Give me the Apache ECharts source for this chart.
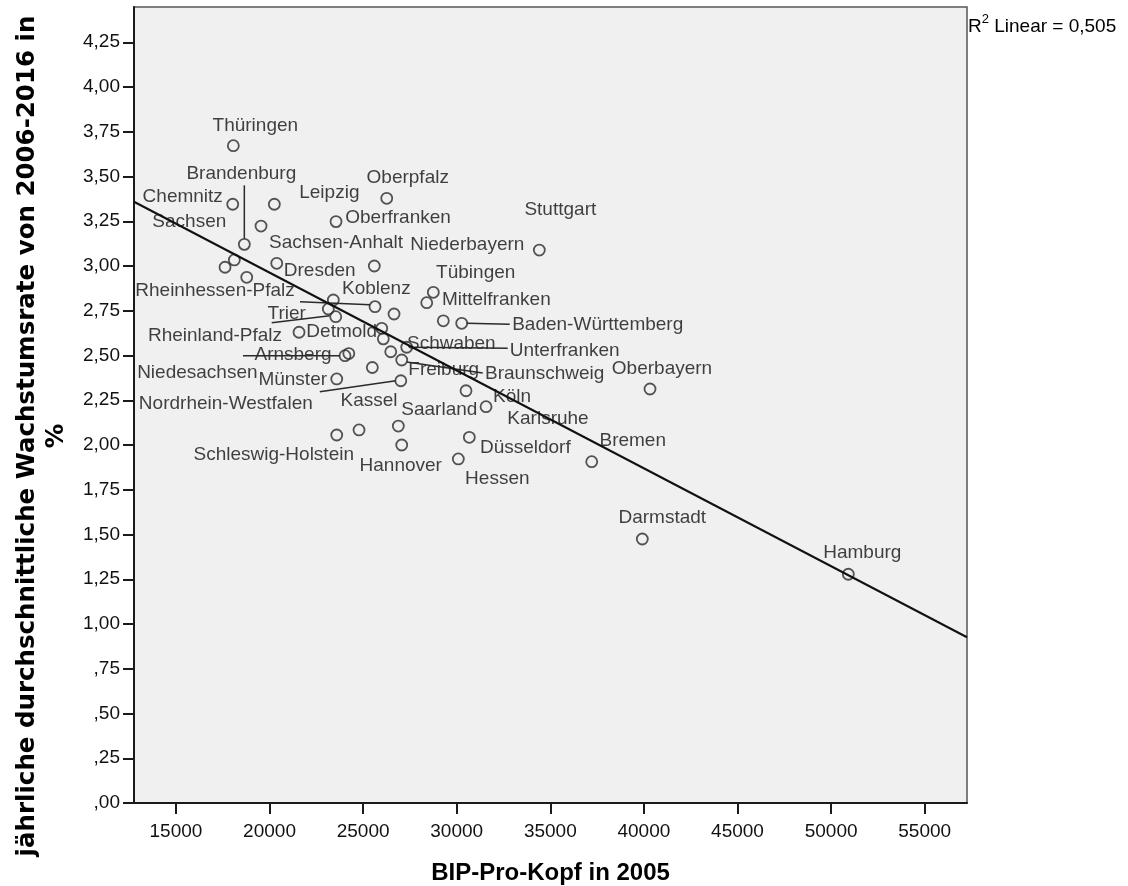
<!DOCTYPE html>
<html>
<head>
<meta charset="utf-8">
<script src="https://cdn.jsdelivr.net/npm/echarts@6/dist/echarts.min.js"></script>
<style>
  html, body { margin: 0; padding: 0; background: #ffffff; }
  #chart { width: 1128px; height: 886px; }
</style>
</head>
<body>
<div id="chart"></div>
<script>
// ---- Data ----
const regionNames = [
  'Thüringen', 'Chemnitz', 'Leipzig', 'Sachsen-Anhalt', 'Brandenburg',
  'Oberfranken', 'Oberpfalz', 'Sachsen', '', '',
  'Dresden', 'Niederbayern', 'Stuttgart', 'Koblenz', '',
  'Trier', 'Rheinhessen-Pfalz', '', 'Tübingen', 'Mittelfranken',
  '', 'Baden-Württemberg', 'Rheinland-Pfalz', 'Detmold', 'Schwaben',
  'Freiburg', 'Unterfranken', 'Braunschweig', 'Arnsberg', '',
  'Niedesachsen', 'Münster', 'Nordrhein-Westfalen', 'Köln', 'Karlsruhe',
  'Saarland', 'Kassel', 'Schleswig-Holstein', 'Hannover', 'Düsseldorf',
  'Hessen', 'Bremen', 'Oberbayern', 'Darmstadt', 'Hamburg'
];
const bipProKopf2005 = [
  18066, 18034, 20257, 19546, 18654,
  23553, 26261, 18120, 17623, 18782,
  20385, 25598, 34413, 23408, 23141,
  23537, 25636, 26651, 28398, 28750,
  29284, 30267, 21576, 25994, 26079,
  26475, 27329, 27062, 24033, 24236,
  25492, 23590, 27014, 30497, 31566,
  26881, 24781, 23590, 27062, 30673,
  30086, 37212, 40326, 39915, 50920
];
const wachstumsrate = [
  3.672, 3.345, 3.345, 3.223, 3.121,
  3.248, 3.378, 3.034, 2.993, 2.937,
  3.015, 3.000, 3.089, 2.810, 2.760,
  2.717, 2.773, 2.732, 2.795, 2.853,
  2.694, 2.680, 2.630, 2.652, 2.593,
  2.521, 2.546, 2.475, 2.499, 2.511,
  2.433, 2.369, 2.359, 2.303, 2.214,
  2.106, 2.084, 2.056, 2.000, 2.043,
  1.922, 1.907, 2.313, 1.475, 1.278
];
// Linear fit line (end points read at the plot edges), R² = 0,505
const fitLine = [[12760, 3.359], [57260, 0.926]];
const rSquaredText = '0,505';
const xTicks = [15000, 20000, 25000, 30000, 35000, 40000, 45000, 50000, 55000];
const yTicks = [0, 0.25, 0.5, 0.75, 1, 1.25, 1.5, 1.75, 2, 2.25, 2.5, 2.75, 3, 3.25, 3.5, 3.75, 4, 4.25];
const xAxisTitle = 'BIP-Pro-Kopf in 2005';
const yAxisTitle = 'jährliche durchschnittliche Wachstumsrate von 2006-2016 in\n%';

// ---- Layout: label offsets (px, label centre relative to point) ----
const labelOffsets = {
  'Thüringen': [22, -20], 'Chemnitz': [-50, -7], 'Leipzig': [55, -11],
  'Sachsen-Anhalt': [75, 17], 'Brandenburg': [-3, -71], 'Oberfranken': [62, -4],
  'Oberpfalz': [21, -21], 'Sachsen': [-45, -38], 'Dresden': [43, 7],
  'Niederbayern': [93, -21], 'Stuttgart': [21, -40], 'Koblenz': [43, -11],
  'Trier': [-49, -3], 'Rheinhessen-Pfalz': [-160, -16], 'Tübingen': [49, -30],
  'Mittelfranken': [63, 7], 'Baden-Württemberg': [136, 1], 'Rheinland-Pfalz': [-84, 4],
  'Detmold': [-40, 3], 'Schwaben': [68, 5], 'Freiburg': [53, 18],
  'Unterfranken': [158, 3], 'Braunschweig': [143, 14], 'Arnsberg': [-52, -1],
  'Niedesachsen': [-175, 5], 'Münster': [-44, 1], 'Nordrhein-Westfalen': [-175, 23],
  'Köln': [46, 6], 'Karlsruhe': [62, 12], 'Saarland': [41, -16],
  'Kassel': [10, -29], 'Schleswig-Holstein': [-63, 20], 'Hannover': [-1, 21],
  'Düsseldorf': [56, 10], 'Hessen': [39, 20], 'Bremen': [41, -21],
  'Oberbayern': [12, -20], 'Darmstadt': [20, -21], 'Hamburg': [14, -21]
};
// leader lines: [from offset, to offset] relative to the point (px)
const leaderLines = [
  { name: 'Brandenburg', a: [0, -6], b: [0, -59] },
  { name: 'Trier', a: [-6, -1], b: [-64, 6] },
  { name: 'Rheinhessen-Pfalz', a: [-5, -2], b: [-75, -5] },
  { name: 'Baden-Württemberg', a: [5, 0], b: [48, 1] },
  { name: 'Unterfranken', a: [5, 0], b: [101, 1] },
  { name: 'Braunschweig', a: [5, 2], b: [81, 13] },
  { name: 'Arnsberg', a: [-5, 0], b: [-102, 0] },
  { name: 'Nordrhein-Westfalen', a: [-5, 0], b: [-81, 11] }
];

const LABEL_FONT = '"Liberation Sans", Arial, sans-serif';
const TEXT_COLOR = '#111111';

const scatterData = regionNames.map((n, i) => {
  const off = labelOffsets[n];
  return {
    name: n,
    value: [bipProKopf2005[i], wachstumsrate[i]],
    label: off ? { show: true, formatter: n, position: 'inside', offset: off } : { show: false }
  };
});

const leaderData = leaderLines.map(l => {
  const i = regionNames.indexOf(l.name);
  return [bipProKopf2005[i], wachstumsrate[i]];
});

function fmtY(v) {
  let s = Number(v).toFixed(2).replace('.', ',');
  if (s.startsWith('0')) s = s.slice(1);
  return s;
}

const chart = echarts.init(document.getElementById('chart'), null, { renderer: 'canvas' });
chart.setOption({
  animation: false,
  backgroundColor: '#ffffff',
  grid: {
    left: 134, right: 161, top: 7, bottom: 83,
    containLabel: false, outerBoundsMode: 'none',
    show: true, backgroundColor: '#f0f0f0',
    borderColor: '#555555', borderWidth: 1.5
  },
  xAxis: {
    type: 'value', min: 12760, max: 57260,
    axisLine: { onZero: false, lineStyle: { color: '#1a1a1a', width: 2 } },
    axisTick: { show: true, length: 11, customValues: xTicks, lineStyle: { color: '#1a1a1a', width: 2 } },
    axisLabel: {
      customValues: xTicks, margin: 19, color: TEXT_COLOR,
      fontFamily: LABEL_FONT, fontSize: 19, formatter: v => String(v)
    },
    splitLine: { show: false },
    name: xAxisTitle, nameLocation: 'middle', nameGap: 58,
    nameTextStyle: { fontFamily: LABEL_FONT, fontWeight: 'bold', fontSize: 24, color: '#000' }
  },
  yAxis: {
    type: 'value', min: 0, max: 4.447,
    axisLine: { show: true, lineStyle: { color: '#1a1a1a', width: 2 } },
    axisTick: { show: true, length: 11, customValues: yTicks, lineStyle: { color: '#1a1a1a', width: 2 } },
    axisLabel: {
      customValues: yTicks, margin: 14, color: TEXT_COLOR,
      fontFamily: LABEL_FONT, fontSize: 19, formatter: v => fmtY(v)
    },
    splitLine: { show: false }
  },
  graphic: [
    {
      type: 'text', x: 42, y: 436, rotation: Math.PI / 2,
      style: {
        text: yAxisTitle, font: 'bold 24.5px "DejaVu Sans", sans-serif',
        fill: '#000', align: 'center', verticalAlign: 'middle', lineHeight: 29
      }
    },
    {
      type: 'text', left: 968, top: 13,
      style: {
        text: '{r|R}{s|2}{r| Linear = ' + rSquaredText + '}',
        rich: {
          r: { fontFamily: LABEL_FONT, fontSize: 19, color: TEXT_COLOR, lineHeight: 23, verticalAlign: 'bottom' },
          s: { fontFamily: LABEL_FONT, fontSize: 13, color: TEXT_COLOR, lineHeight: 23, verticalAlign: 'top' }
        }
      }
    }
  ],
  series: [
    {
      type: 'scatter', data: scatterData, symbol: 'circle', symbolSize: 11,
      silent: true, z: 2,
      itemStyle: { color: 'rgba(0,0,0,0)', borderColor: '#2a2a2a', borderWidth: 1.8 },
      label: { fontFamily: LABEL_FONT, fontSize: 19, color: TEXT_COLOR },
      emphasis: { disabled: true }
    },
    {
      type: 'custom', data: leaderData, silent: true, z: 3,
      renderItem: (params, api) => {
        const l = leaderLines[params.dataIndex];
        const p = api.coord([api.value(0), api.value(1)]);
        return {
          type: 'line',
          shape: { x1: p[0] + l.a[0], y1: p[1] + l.a[1], x2: p[0] + l.b[0], y2: p[1] + l.b[1] },
          style: { stroke: '#2a2a2a', lineWidth: 1.5 }
        };
      }
    },
    {
      type: 'line', data: fitLine, symbol: 'none', silent: true, z: 4,
      lineStyle: { color: '#111', width: 2 }
    }
  ]
});
</script>
</body>
</html>
